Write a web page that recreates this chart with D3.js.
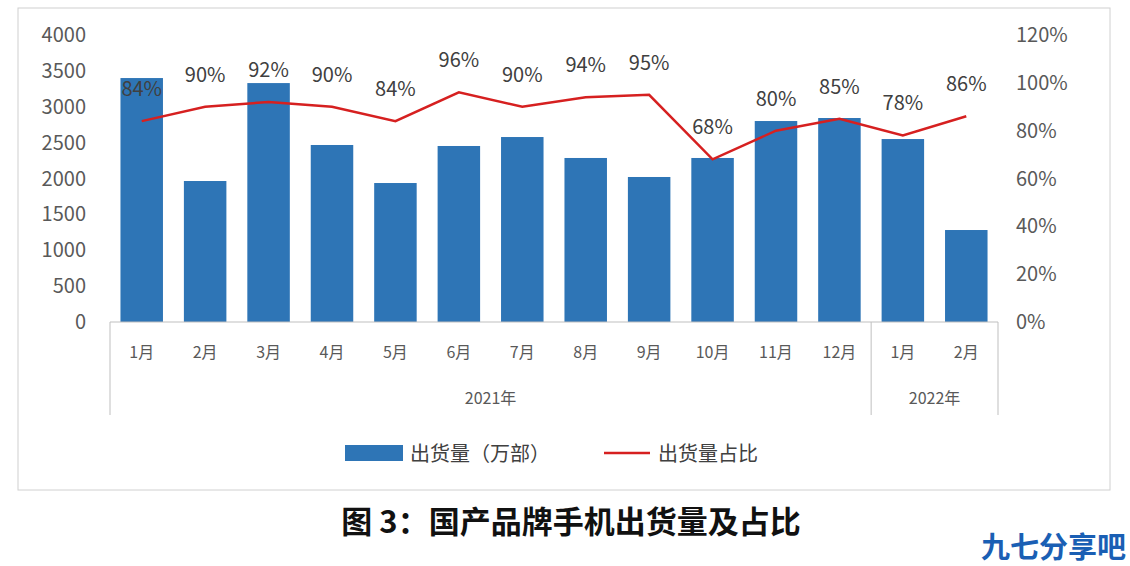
<!DOCTYPE html><html><head><meta charset="utf-8">
<script src="https://cdn.jsdelivr.net/npm/d3@7"></script>
<style>body{margin:0;background:#fff;font-family:"Noto Sans CJK SC","Noto Sans",sans-serif}</style></head><body>
<svg id="c" width="1130" height="566"></svg>
<script>
const months=["1月","2月","3月","4月","5月","6月","7月","8月","9月","10月","11月","12月","1月","2月"];
const shipments=[3400,1965,3330,2467,1937,2453,2578,2286,2021,2286,2801,2843,2550,1282];
const share=[84,90,92,90,84,96,90,94,95,68,80,85,78,86];
const leftTicks=[0,500,1000,1500,2000,2500,3000,3500,4000];
const rightTicks=[0,20,40,60,80,100,120];
const years=[{label:"2021年",from:0,to:12},{label:"2022年",from:12,to:14}];
const svg=d3.select("#c");
svg.append("rect").attr("x",18).attr("y",8).attr("width",1092).attr("height",482).attr("fill","none").attr("stroke","#d0d0d0");
const x=d3.scaleBand().domain(d3.range(months.length)).range([110,998]).paddingInner(0.33).paddingOuter(0.165);
const y=d3.scaleLinear().domain([0,4000]).range([322,35]);
const y2=d3.scaleLinear().domain([0,120]).range([322,35]);
const tf="#595959";
leftTicks.forEach(t=>svg.append("text").attr("x",86).attr("y",y(t)+7).attr("text-anchor","end").attr("font-size",20).attr("fill",tf).text(t));
rightTicks.forEach(t=>svg.append("text").attr("x",1016).attr("y",y2(t)+7).attr("font-size",20).attr("fill",tf).text(t+"%"));
svg.selectAll(".b").data(shipments).enter().append("rect").attr("x",(d,i)=>x(i)).attr("width",x.bandwidth()).attr("y",d=>y(d)).attr("height",d=>322-y(d)).attr("fill","#2e75b6");
svg.append("line").attr("x1",110).attr("x2",998).attr("y1",322).attr("y2",322).attr("stroke","#bfbfbf");
const step=x.step();
const bx=i=>110+i*step;
[0,12,14].forEach(i=>svg.append("line").attr("x1",bx(i)).attr("x2",bx(i)).attr("y1",322).attr("y2",415).attr("stroke","#bfbfbf"));
months.forEach((m,i)=>svg.append("text").attr("x",x(i)+x.bandwidth()/2).attr("y",358).attr("text-anchor","middle").attr("font-size",16).attr("fill",tf).text(m));
years.forEach(g=>svg.append("text").attr("x",(bx(g.from)+bx(g.to))/2).attr("y",404).attr("text-anchor","middle").attr("font-size",16).attr("fill",tf).text(g.label));
const line=d3.line().x((d,i)=>x(i)+x.bandwidth()/2).y(d=>y2(d));
svg.append("path").datum(share).attr("d",line).attr("fill","none").attr("stroke","#d62020").attr("stroke-width",2.5);
share.forEach((d,i)=>svg.append("text").attr("x",x(i)+x.bandwidth()/2).attr("y",y2(d)-25).attr("text-anchor","middle").attr("font-size",20).attr("fill","#404040").text(d+"%"));
svg.append("rect").attr("x",345).attr("y",445).attr("width",58).attr("height",16).attr("fill","#2e75b6");
svg.append("text").attr("x",410).attr("y",461).attr("font-size",20).attr("fill","#404040").text("出货量（万部）");
svg.append("line").attr("x1",604).attr("x2",650).attr("y1",453).attr("y2",453).attr("stroke","#d62020").attr("stroke-width",2.5);
svg.append("text").attr("x",658).attr("y",461).attr("font-size",20).attr("fill","#404040").text("出货量占比");
svg.append("text").attr("x",571).attr("y",533).attr("text-anchor","middle").attr("font-size",31).attr("font-weight","bold").attr("fill","#111").text("图 3：国产品牌手机出货量及占比");
svg.append("text").attr("x",1126).attr("y",558).attr("text-anchor","end").attr("font-size",29).attr("font-weight","bold").attr("fill","#1a5fb4").text("九七分享吧");
</script></body></html>
